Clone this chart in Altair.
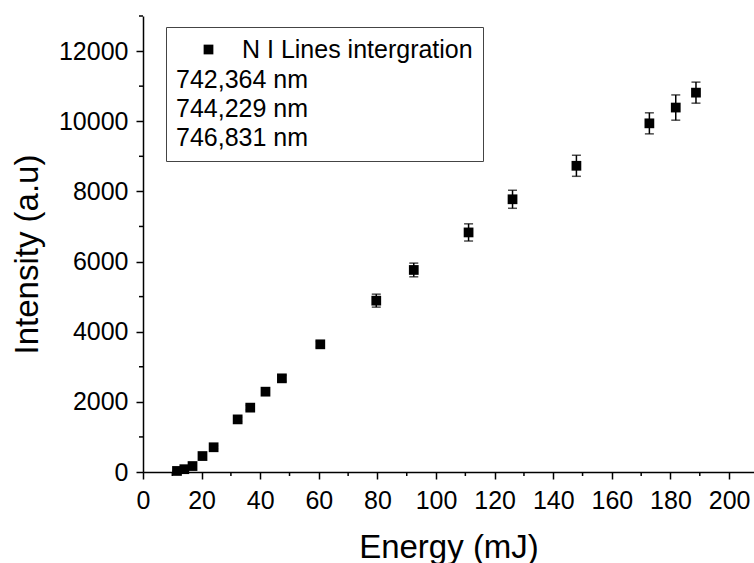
import altair as alt
import pandas as pd

# ---- data ----
energy = [11.6, 14.1, 16.9, 20.3, 24.1, 32.3, 36.6, 41.8, 47.4, 60.5,
          79.6, 92.4, 111.1, 126.1, 147.9, 172.8, 181.8, 188.7]
intensity = [30, 80, 170, 455, 705, 1500, 1835, 2290, 2670, 3640,
             4885, 5760, 6830, 7775, 8730, 9940, 10390, 10815]
error = [10, 15, 20, 30, 40, 60, 65, 75, 85, 80,
         185, 195, 245, 257, 300, 300, 360, 300]

x_ticks = [0, 20, 40, 60, 80, 100, 120, 140, 160, 180, 200]
x_minor = [10, 30, 50, 70, 90, 110, 130, 150, 170, 190]
y_ticks = [0, 2000, 4000, 6000, 8000, 10000, 12000]
y_minor = [1000, 3000, 5000, 7000, 9000, 11000, 13000]

series_name = "N I Lines intergration"
legend_lines = ["742,364 nm", "744,229 nm", "746,831 nm"]

# ---- tables ----
df = pd.DataFrame({
    "E": energy,
    "I": intensity,
    "lo": [i - e for i, e in zip(intensity, error)],
    "hi": [i + e for i, e in zip(intensity, error)],
    "series": [series_name] * len(energy),
})
df_xm = pd.DataFrame({"E": x_minor})
df_ym = pd.DataFrame({"I": y_minor})

W, H = 611, 456
FONT = "Liberation Sans"

common_axis = dict(
    domainColor="black",
    domainWidth=1.5,
    tickColor="black",
    tickWidth=1.5,
    tickSize=7,
    labelFont=FONT,
    labelFontSize=25,
    labelColor="black",
    titleFont=FONT,
    titleFontSize=33,
    titleFontWeight="normal",
    titleColor="black",
    grid=False,
    labelFlush=False,
    labelOverlap=False,
    format="d",
)

xscale = alt.Scale(domain=[0, 208.5], nice=False, zero=False)
yscale = alt.Scale(domain=[0, 13000], nice=False, zero=False)
xaxis = alt.Axis(values=x_ticks, title="Energy (mJ)", labelPadding=9,
                 titleY=85, titleBaseline="alphabetic", **common_axis)
yaxis = alt.Axis(values=y_ticks, title="Intensity (a.u)", labelPadding=8,
                 titleX=-99, titleY=238, **common_axis)


def X(field):
    return alt.X(field, type="quantitative", scale=xscale, axis=xaxis)


def Y(field):
    return alt.Y(field, type="quantitative", scale=yscale, axis=yaxis)


base = alt.Chart(df)

bars = base.mark_rule(color="black", strokeWidth=1.5).encode(
    x=X("E"), y=Y("lo"), y2="hi"
)
cap_hi = base.mark_tick(color="black", orient="horizontal", size=9, thickness=1.5).encode(
    x=X("E"), y=Y("hi")
)
cap_lo = base.mark_tick(color="black", orient="horizontal", size=9, thickness=1.5).encode(
    x=X("E"), y=Y("lo")
)
pts = base.mark_square(size=95, opacity=1).encode(
    x=X("E"),
    y=Y("I"),
    color=alt.Color(
        "series:N",
        scale=alt.Scale(range=["black"]),
        legend=alt.Legend(
            title=legend_lines,
            orient="none",
            legendX=23,
            legendY=11,
            titleOrient="bottom",
            titleAnchor="start",
            titleAlign="left",
            titleFont=FONT,
            titleFontSize=25,
            titleFontWeight="normal",
            titleColor="black",
            titleLineHeight=29,
            titlePadding=5,
            titleLimit=400,
            labelFont=FONT,
            labelFontSize=25,
            labelColor="black",
            labelLimit=400,
            labelOffset=21,
            symbolType="square",
            symbolSize=95,
            symbolOffset=20,
            symbolStrokeWidth=0,
            symbolOpacity=1,
            padding=10,
            strokeColor="#444444",
            fillColor="white",
        ),
    ),
)

xminor = alt.Chart(df_xm).mark_rule(color="black", strokeWidth=1.5).encode(
    x=X("E"), y=alt.value(H), y2=alt.value(H + 4)
)
yminor = alt.Chart(df_ym).mark_rule(color="black", strokeWidth=1.5).encode(
    y=Y("I"), x=alt.value(0), x2=alt.value(-4)
)

chart = (
    alt.layer(xminor, yminor, bars, cap_hi, cap_lo, pts)
    .properties(
        width=W,
        height=H,
        autosize=alt.AutoSizeParams(type="none"),
        padding={"left": 143, "top": 16, "right": 0, "bottom": 91},
        background="white",
    )
    .configure_view(stroke="transparent")
)

chart.save("out.html", embed_options={"renderer": "svg", "actions": False})
